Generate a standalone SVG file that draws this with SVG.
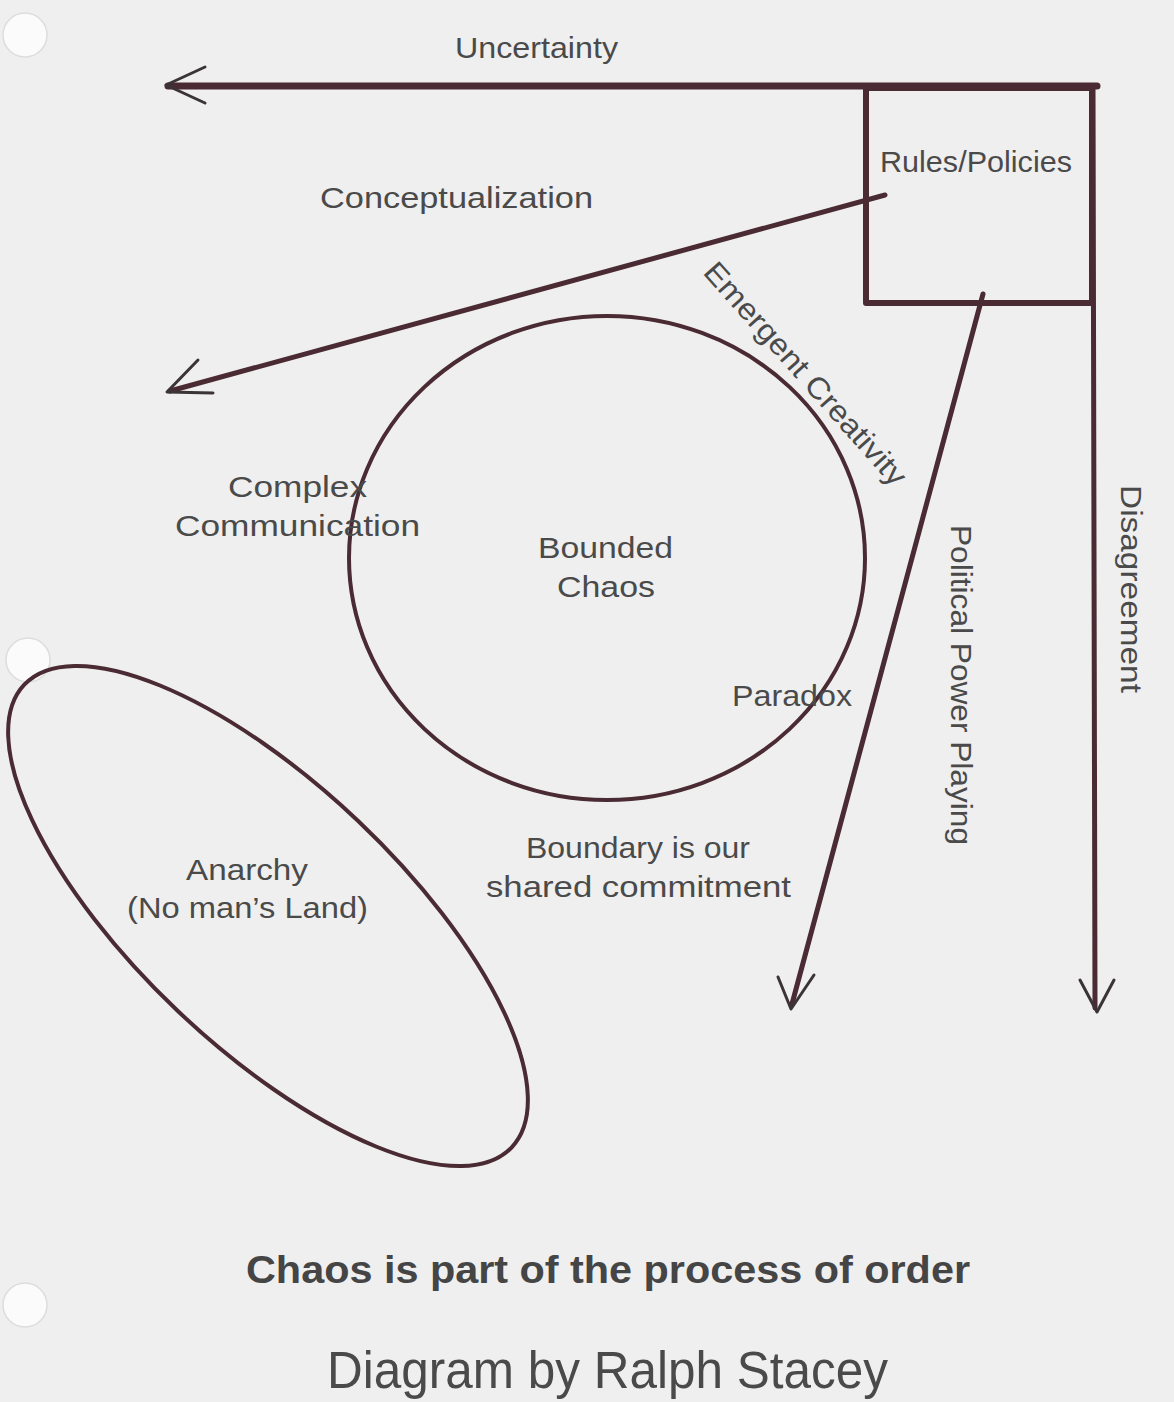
<svg xmlns="http://www.w3.org/2000/svg" width="1174" height="1402" viewBox="0 0 1174 1402">
<defs>
<style>
.ink{fill:none;stroke:#4a2b33;stroke-linecap:round;stroke-linejoin:round}
.head{fill:none;stroke:#3b3437;stroke-width:3;stroke-linecap:round;stroke-linejoin:round}
.lbl{font-family:"Liberation Sans",Arial,sans-serif;font-size:30px;fill:#4a4a4a}
.hole{fill:#fbfbfb;stroke:#dddddd;stroke-width:1.5}
</style>
</defs>
<rect x="0" y="0" width="1174" height="1402" fill="#efefef"/>
<g id="holes">
<circle class="hole" cx="25" cy="35" r="22"/>
<circle class="hole" cx="28" cy="660" r="22"/>
<circle class="hole" cx="25" cy="1305" r="22"/>
</g>
<g id="connectors">
<line class="ink" x1="168" y1="86" x2="1097" y2="86" stroke-width="7"/>
<polyline class="head" points="205,67 166,85 205,103"/>
<line class="ink" x1="1093" y1="88" x2="1095" y2="1008" stroke-width="5"/>
<polyline class="head" points="1080,980 1097,1012 1114,980"/>
<line class="ink" x1="885" y1="195" x2="170" y2="391" stroke-width="5"/>
<polyline class="head" points="198,360 167,392 213,393"/>
<line class="ink" x1="983" y1="294" x2="792" y2="1004" stroke-width="5"/>
<polyline class="head" points="778,977 791,1009 814,975"/>
</g>
<g id="rules">
<rect class="ink" x="866" y="88" width="226" height="215" stroke-width="6"/>
<text class="lbl" x="880" y="172" textLength="192" lengthAdjust="spacingAndGlyphs">Rules/Policies</text>
</g>
<g id="bounded-chaos">
<ellipse class="ink" cx="607" cy="558" rx="258" ry="242" stroke-width="4"/>
<text class="lbl" x="538" y="558" textLength="135" lengthAdjust="spacingAndGlyphs">Bounded</text>
<text class="lbl" x="557" y="597" textLength="98" lengthAdjust="spacingAndGlyphs">Chaos</text>
</g>
<g id="anarchy">
<ellipse class="ink" cx="268" cy="916" rx="336" ry="131" transform="rotate(43.5 268 916)" stroke-width="4"/>
<text class="lbl" x="186" y="880" textLength="122" lengthAdjust="spacingAndGlyphs">Anarchy</text>
<text class="lbl" x="127" y="918" textLength="241" lengthAdjust="spacingAndGlyphs">(No man’s Land)</text>
</g>
<g id="labels">
<text class="lbl" x="455" y="58" textLength="163" lengthAdjust="spacingAndGlyphs">Uncertainty</text>
<text class="lbl" x="320" y="208" textLength="273" lengthAdjust="spacingAndGlyphs">Conceptualization</text>
<text class="lbl" transform="translate(702,273) rotate(48.3)" x="0" y="0" textLength="288" lengthAdjust="spacingAndGlyphs">Emergent Creativity</text>
<text class="lbl" x="228" y="497" textLength="139" lengthAdjust="spacingAndGlyphs">Complex</text>
<text class="lbl" x="175" y="536" textLength="245" lengthAdjust="spacingAndGlyphs">Communication</text>
<text class="lbl" x="732" y="706" textLength="120" lengthAdjust="spacingAndGlyphs">Paradox</text>
<text class="lbl" x="526" y="858" textLength="224" lengthAdjust="spacingAndGlyphs">Boundary is our</text>
<text class="lbl" x="486" y="897" textLength="305" lengthAdjust="spacingAndGlyphs">shared commitment</text>
<text class="lbl" transform="translate(951,525) rotate(90)" x="0" y="0" textLength="320" lengthAdjust="spacingAndGlyphs">Political Power Playing</text>
<text class="lbl" transform="translate(1121,485) rotate(90)" x="0" y="0" textLength="208" lengthAdjust="spacingAndGlyphs">Disagreement</text>
</g>
<g id="title">
<text x="246" y="1283" font-family="'Liberation Sans',Arial,sans-serif" font-size="38" font-weight="bold" fill="#454545" textLength="724" lengthAdjust="spacingAndGlyphs">Chaos is part of the process of order</text>
<text x="327" y="1388" font-family="'Liberation Sans',Arial,sans-serif" font-size="51" fill="#4a4a4a" textLength="561" lengthAdjust="spacingAndGlyphs">Diagram by Ralph Stacey</text>
</g>
</svg>
